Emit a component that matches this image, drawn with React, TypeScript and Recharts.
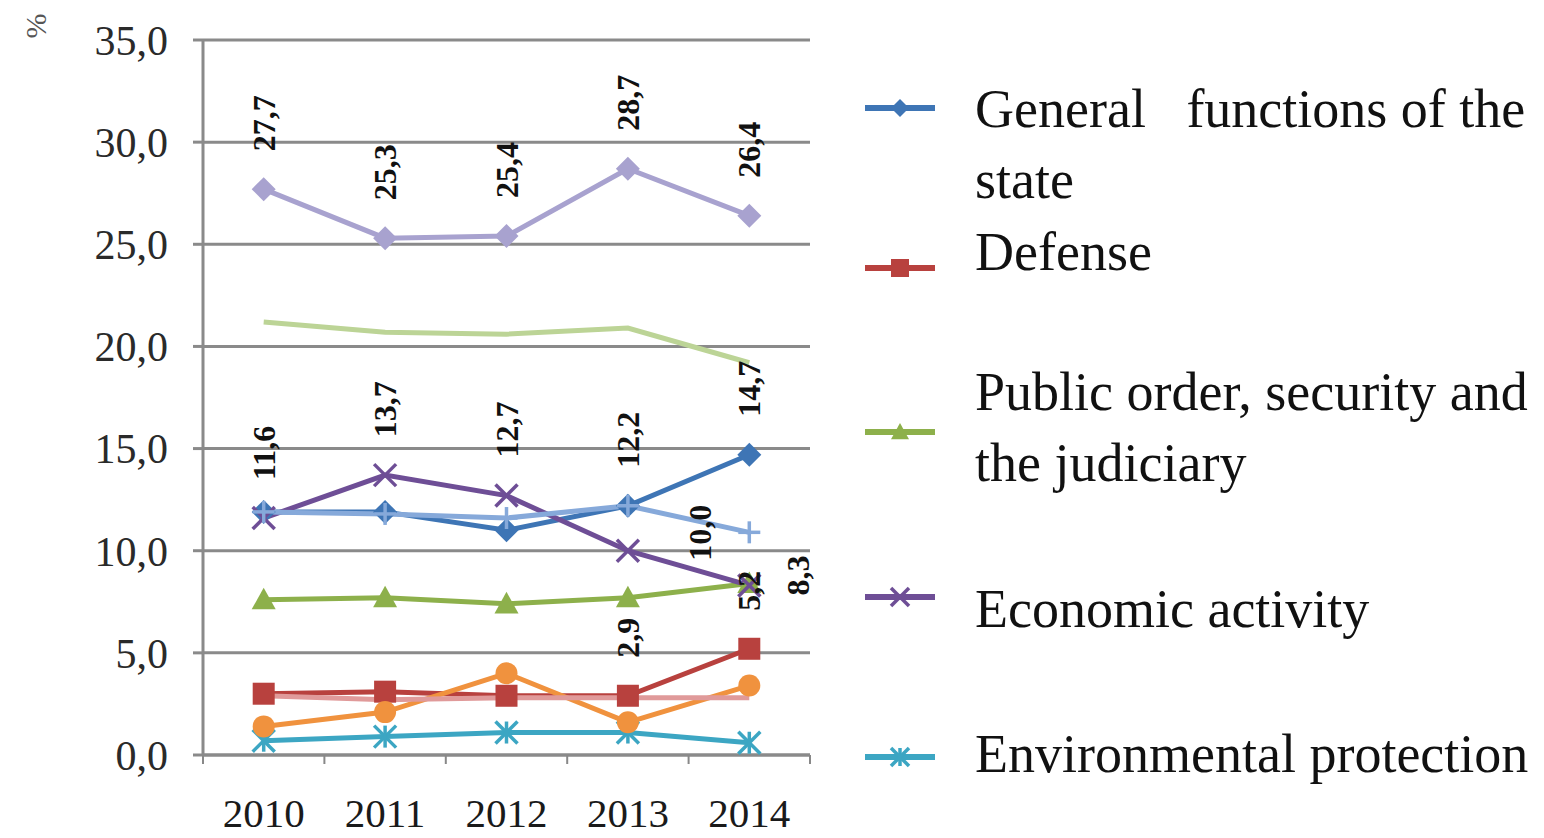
import React from "react";
import {
  LineChart,
  Line,
  XAxis,
  YAxis,
  CartesianGrid,
  Legend,
  LabelList,
} from "recharts";

const FONT = '"Liberation Serif", "Times New Roman", serif';

const years = [2010, 2011, 2012, 2013, 2014];
const xTicks = [2009.5, 2010, 2010.5, 2011, 2011.5, 2012, 2012.5, 2013, 2013.5, 2014, 2014.5];
const yTicks = [0, 5, 10, 15, 20, 25, 30, 35];

const general = [11.9, 11.9, 11.0, 12.2, 14.7];
const defense = [3.0, 3.1, 2.9, 2.9, 5.2];
const publicOrder = [7.6, 7.7, 7.4, 7.7, 8.4];
const economic = [11.6, 13.7, 12.7, 10.0, 8.3];
const environmental = [0.7, 0.9, 1.1, 1.1, 0.6];
const housing = [1.4, 2.1, 4.0, 1.6, 3.4];
const health = [11.9, 11.8, 11.6, 12.2, 10.9];
const recreation = [2.9, 2.7, 2.8, 2.8, 2.8];
const education = [21.2, 20.7, 20.6, 20.9, 19.2];
const social = [27.7, 25.3, 25.4, 28.7, 26.4];

const data = years.map((year, i) => ({
  year,
  general: general[i],
  defense: defense[i],
  publicOrder: publicOrder[i],
  economic: economic[i],
  environmental: environmental[i],
  housing: housing[i],
  health: health[i],
  recreation: recreation[i],
  education: education[i],
  social: social[i],
}));

type Shape = "diamond" | "square" | "triangle" | "x" | "star" | "circle" | "plus" | "none";

interface SeriesDef {
  key: string;
  name: string;
  color: string;
  shape: Shape;
  size: number;
}

const series: SeriesDef[] = [
  { key: "general", name: "General functions of the state", color: "#3E75B5", shape: "diamond", size: 12 },
  { key: "defense", name: "Defense", color: "#B8413E", shape: "square", size: 11 },
  { key: "publicOrder", name: "Public order, security and the judiciary", color: "#8DB04B", shape: "triangle", size: 12 },
  { key: "economic", name: "Economic activity", color: "#6E4E96", shape: "x", size: 11 },
  { key: "environmental", name: "Environmental protection", color: "#3CA6C3", shape: "star", size: 11 },
  { key: "housing", name: "Housing and community amenities", color: "#F0923E", shape: "circle", size: 11 },
  { key: "health", name: "Health", color: "#86A9DA", shape: "plus", size: 11 },
  { key: "recreation", name: "Recreation, culture and religion", color: "#E09A9A", shape: "none", size: 0 },
  { key: "education", name: "Education", color: "#BCD496", shape: "none", size: 0 },
  { key: "social", name: "Social protection", color: "#A8A2CF", shape: "diamond", size: 12 },
];

// which legend rows are shown and how they are laid out
const legendLines: Record<string, string[]> = {
  general: ["General   functions of the", "state"],
  defense: ["Defense"],
  publicOrder: ["Public order, security and", "the judiciary"],
  economic: ["Economic activity"],
  environmental: ["Environmental protection"],
};
const legendIconY = [108, 268, 432, 597, 757];
const legendTextTop = [74, 217, 357, 574, 719];

function Marker({ shape, cx, cy, color, r }: { shape: Shape; cx: number; cy: number; color: string; r: number }) {
  switch (shape) {
    case "diamond":
      return <polygon points={`${cx},${cy - r} ${cx + r},${cy} ${cx},${cy + r} ${cx - r},${cy}`} fill={color} />;
    case "square":
      return <rect x={cx - r} y={cy - r} width={2 * r} height={2 * r} fill={color} />;
    case "triangle":
      return <polygon points={`${cx},${cy - r} ${cx + r},${cy + r * 0.8} ${cx - r},${cy + r * 0.8}`} fill={color} />;
    case "circle":
      return <circle cx={cx} cy={cy} r={r} fill={color} />;
    case "x":
      return (
        <g stroke={color} strokeWidth={3.5}>
          <line x1={cx - r} y1={cy - r} x2={cx + r} y2={cy + r} />
          <line x1={cx - r} y1={cy + r} x2={cx + r} y2={cy - r} />
        </g>
      );
    case "star":
      return (
        <g stroke={color} strokeWidth={3.5}>
          <line x1={cx - r} y1={cy - r} x2={cx + r} y2={cy + r} />
          <line x1={cx - r} y1={cy + r} x2={cx + r} y2={cy - r} />
          <line x1={cx} y1={cy - r} x2={cx} y2={cy + r} />
        </g>
      );
    case "plus":
      return (
        <g stroke={color} strokeWidth={3.5}>
          <line x1={cx - r} y1={cy} x2={cx + r} y2={cy} />
          <line x1={cx} y1={cy - r} x2={cx} y2={cy + r} />
        </g>
      );
    default:
      return null;
  }
}

const makeDot = (s: SeriesDef) => (props: any) => (
  <g key={`dot-${s.key}-${props.index}`}>
    <Marker shape={s.shape} cx={props.cx} cy={props.cy} color={s.color} r={s.size} />
  </g>
);

const fmt = (v: number) => v.toFixed(1).replace(".", ",");

// rotated value labels; shown = indexes that carry a label, shift = per-index nudge
const makeLabel =
  (shown: number[], shift: Record<number, [number, number]> = {}) =>
  (props: any) => {
    const { x, y, value, index } = props;
    if (!shown.includes(index)) return null;
    const [dx, dy] = shift[index] ?? [0, -38];
    return (
      <text
        key={`lbl-${index}`}
        transform={`translate(${x + dx},${y + dy}) rotate(-90)`}
        textAnchor="start"
        dominantBaseline="central"
        fontFamily={FONT}
        fontWeight="bold"
        fontSize={32}
        fill="#111"
      >
        {fmt(value)}
      </text>
    );
  };

const labelRules: Record<string, (props: any) => React.ReactNode> = {
  general: makeLabel([3, 4]),
  defense: makeLabel([3, 4]),
  economic: makeLabel([0, 1, 2, 3, 4], { 3: [72, 10], 4: [49, 10] }),
  social: makeLabel([0, 1, 2, 3, 4]),
};

const XTick = (props: any) => {
  const { x, y, payload } = props;
  if (payload.value % 1 !== 0) {
    return <line x1={x} y1={y} x2={x} y2={y + 9} stroke="#888" strokeWidth={2} />;
  }
  return (
    <text x={x} y={y + 72} textAnchor="middle" fontFamily={FONT} fontSize={41} fill="#1a1a1a">
      {payload.value}
    </text>
  );
};

const PercentLabel = (props: any) => {
  const vb = props.viewBox;
  return (
    <text
      transform={`translate(${vb.x + 35},${vb.y - 14}) rotate(-90)`}
      textAnchor="middle"
      dominantBaseline="central"
      fontFamily={FONT}
      fontSize={30}
      fill="#555"
    >
      %
    </text>
  );
};

function LegendContent() {
  const shownSeries = series.filter((s) => legendLines[s.key]);
  return (
    <div style={{ position: "relative", width: 684, height: 838, fontFamily: FONT }}>
      {shownSeries.map((s, i) => (
        <React.Fragment key={s.key}>
          <svg
            width={80}
            height={30}
            style={{ position: "absolute", left: 0, top: legendIconY[i] - 15 }}
          >
            <line x1={5} y1={15} x2={75} y2={15} stroke={s.color} strokeWidth={6} />
            <Marker shape={s.shape} cx={40} cy={15} color={s.color} r={9} />
          </svg>
          <div
            style={{
              position: "absolute",
              left: 115,
              top: legendTextTop[i],
              fontSize: 54,
              lineHeight: "71px",
              whiteSpace: "pre",
              color: "#111",
            }}
          >
            {legendLines[s.key].map((ln) => (
              <div key={ln}>{ln}</div>
            ))}
          </div>
        </React.Fragment>
      ))}
    </div>
  );
}

export default function App() {
  return (
    <div style={{ position: "absolute", left: 0, top: 0, width: 1544, height: 838, background: "#fff" }}>
      <LineChart
        width={1544}
        height={838}
        data={data}
        margin={{ top: 40, right: 734, bottom: 0, left: 0 }}
      >
        <CartesianGrid vertical={false} stroke="#8a8a8a" strokeWidth={3} />
        <XAxis
          dataKey="year"
          type="number"
          domain={[2009.5, 2014.5]}
          ticks={xTicks}
          interval={0}
          tick={<XTick />}
          tickLine={false}
          tickSize={0}
          tickMargin={0}
          height={83}
          axisLine={{ stroke: "#8a8a8a", strokeWidth: 3 }}
        />
        <YAxis
          domain={[0, 35]}
          ticks={yTicks}
          interval={0}
          width={203}
          tickSize={10}
          tickMargin={25}
          tickFormatter={fmt}
          tick={{ fontFamily: FONT, fontSize: 42, fill: "#2a2a2a" }}
          tickLine={{ stroke: "#8a8a8a", strokeWidth: 3 }}
          axisLine={{ stroke: "#8a8a8a", strokeWidth: 3 }}
          label={<PercentLabel />}
        />
        <Legend
          layout="horizontal"
          verticalAlign="middle"
          align="center"
          content={<LegendContent />}
          wrapperStyle={{ left: 860, top: 0, width: 684, height: 838 }}
        />
        {series.map((s) => (
          <Line
            key={s.key}
            dataKey={s.key}
            name={s.name}
            stroke={s.color}
            strokeWidth={5}
            dot={s.shape === "none" ? false : makeDot(s)}
            activeDot={false}
            isAnimationActive={false}
          >
            {labelRules[s.key] && (
              <LabelList dataKey={s.key} content={labelRules[s.key] as any} />
            )}
          </Line>
        ))}
      </LineChart>
    </div>
  );
}
